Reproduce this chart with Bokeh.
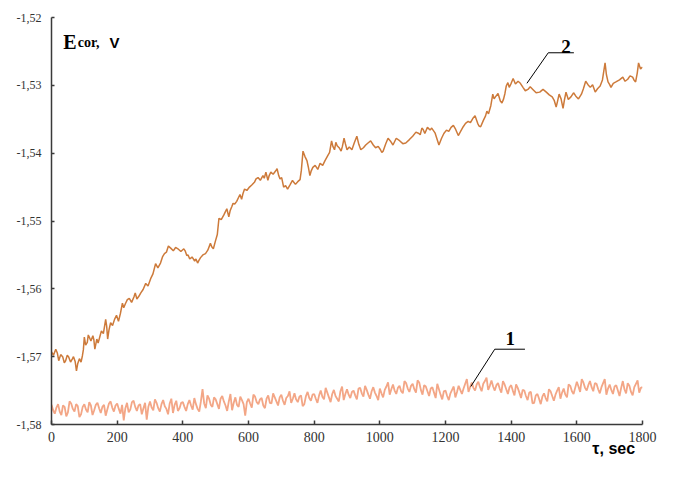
from bokeh.plotting import figure
from bokeh.models import Range1d, FixedTicker, CustomJSTickFormatter, Label
from bokeh.embed import file_html
from bokeh.resources import INLINE

# ---------------- data ----------------
x_ticks = [0, 200, 400, 600, 800, 1000, 1200, 1400, 1600, 1800]
y_ticks = [-1.58, -1.57, -1.56, -1.55, -1.54, -1.53, -1.52]

# curve 2 (time, s ; potential, V) - main readings
t2 = [0, 13, 22, 34, 43, 52, 64, 67, 76, 85, 94, 100, 109, 115, 126, 132, 138, 147,
      165, 171, 180, 192, 204, 216, 225, 237, 251, 260, 272, 287, 302, 317, 332, 344,
      356, 371, 385, 403, 412, 421, 436, 445, 454, 469, 484, 493, 505, 510, 525, 534,
      540, 549, 558, 570, 579, 588, 603, 618, 629, 644, 653, 659, 668, 683, 692, 701,
      707, 719, 734, 743, 757, 766, 778, 787, 796, 811, 826, 841, 853, 862, 870, 882,
      891, 900, 915, 930, 942, 957, 972, 987, 1002, 1010, 1025, 1040, 1061, 1079, 1100,
      1119, 1128, 1137, 1153, 1158, 1180, 1195, 1210, 1224, 1239, 1254, 1269, 1283,
      1298, 1307, 1322, 1331, 1344, 1352, 1367, 1377, 1385, 1394, 1406, 1421, 1436,
      1451, 1466, 1487, 1507, 1525, 1537, 1546, 1558, 1567, 1582, 1597, 1614, 1627,
      1641, 1656, 1671, 1686, 1695, 1704, 1719, 1740, 1755, 1770, 1779, 1788, 1800]
e2 = [-1.5693, -1.5689, -1.5706, -1.5700, -1.5706, -1.5700, -1.5703, -1.5700, -1.5721,
      -1.5703, -1.5699, -1.5671, -1.5679, -1.5671, -1.5669, -1.5689, -1.5674, -1.5671,
      -1.5645, -1.5674, -1.5650, -1.5645, -1.5648, -1.5621, -1.5622, -1.5614, -1.5612,
      -1.5615, -1.5606, -1.5592, -1.5585, -1.5563, -1.5562, -1.5548, -1.5537, -1.5544,
      -1.5541, -1.5541, -1.5551, -1.5556, -1.5559, -1.5562, -1.5554, -1.5548, -1.5533,
      -1.5541, -1.5520, -1.5496, -1.5491, -1.5482, -1.5494, -1.5479, -1.5475, -1.5465,
      -1.5468, -1.5453, -1.5450, -1.5443, -1.5436, -1.5433, -1.5428, -1.5440, -1.5428,
      -1.5426, -1.5433, -1.5436, -1.5450, -1.5453, -1.5440, -1.5446, -1.5439, -1.5397,
      -1.5411, -1.5433, -1.5421, -1.5424, -1.5418, -1.5404, -1.5382, -1.5395, -1.5389,
      -1.5397, -1.5378, -1.5395, -1.5395, -1.5375, -1.5395, -1.5388, -1.5382, -1.5392,
      -1.5395, -1.5397, -1.5378, -1.5388, -1.5382, -1.5385, -1.5375, -1.5371, -1.5363,
      -1.5371, -1.5366, -1.5363, -1.5388, -1.5371, -1.5368, -1.5359, -1.5374, -1.5361,
      -1.5353, -1.5349, -1.5356, -1.5361, -1.5345, -1.5342, -1.5313, -1.5317, -1.5323,
      -1.5320, -1.5301, -1.5303, -1.5290, -1.5294, -1.5303, -1.5306, -1.5306, -1.5310,
      -1.5310, -1.5317, -1.5332, -1.5313, -1.5334, -1.5310, -1.5317, -1.5316, -1.5313,
      -1.5294, -1.5303, -1.5310, -1.5301, -1.5267, -1.5295, -1.5303, -1.5295, -1.5288,
      -1.5291, -1.5288, -1.5295, -1.5267, -1.5273]

# curve 2 - additional in-between readings (fine jitter)
t2_extra = [6, 18, 28, 39, 48, 58, 72, 80, 90, 97, 104, 112, 120, 129, 142, 152, 158, 168,
            175, 186, 198, 210, 220, 231, 244, 255, 266, 279, 294, 309, 324, 338, 350, 363,
            378, 394, 407, 416, 428, 440, 449, 461, 476, 488, 499, 517, 529, 544, 553, 564,
            574, 583, 595, 610, 623, 636, 648, 663, 675, 687, 696, 713, 726, 738, 750, 761,
            772, 782, 791, 803, 818, 833, 847, 857, 866, 876, 886, 895, 907, 922, 936, 950,
            964, 980, 995, 1006, 1018, 1032, 1050, 1070, 1090, 1110, 1123, 1132, 1145, 1168,
            1188, 1203, 1217, 1231, 1246, 1261, 1276, 1290, 1302, 1315, 1326, 1338, 1348,
            1360, 1372, 1381, 1390, 1400, 1413, 1428, 1443, 1458, 1476, 1497, 1516, 1531,
            1541, 1552, 1562, 1574, 1590, 1605, 1620, 1634, 1648, 1663, 1678, 1690, 1700,
            1711, 1730, 1747, 1762, 1774, 1784, 1794]
e2_extra = [-1.5698, -1.5695, -1.5697, -1.5709, -1.5698, -1.5708, -1.5707, -1.5710, -1.5708,
            -1.5690, -1.5683, -1.5668, -1.5677, -1.5675, -1.5680, -1.5662, -1.5666, -1.5655,
            -1.5661, -1.5654, -1.5639, -1.5636, -1.5628, -1.5616, -1.5620, -1.5606, -1.5611,
            -1.5601, -1.5596, -1.5578, -1.5569, -1.5553, -1.5546, -1.5540, -1.5539, -1.5545,
            -1.5544, -1.5550, -1.5553, -1.5556, -1.5558, -1.5550, -1.5543, -1.5538, -1.5530,
            -1.5498, -1.5487, -1.5485, -1.5474, -1.5471, -1.5461, -1.5460, -1.5455, -1.5447,
            -1.5438, -1.5440, -1.5437, -1.5433, -1.5431, -1.5423, -1.5438, -1.5448, -1.5447,
            -1.5443, -1.5442, -1.5425, -1.5405, -1.5420, -1.5426, -1.5418, -1.5415, -1.5411,
            -1.5399, -1.5390, -1.5384, -1.5392, -1.5390, -1.5386, -1.5391, -1.5385, -1.5387,
            -1.5392, -1.5385, -1.5388, -1.5390, -1.5399, -1.5386, -1.5382, -1.5378, -1.5386,
            -1.5380, -1.5369, -1.5373, -1.5365, -1.5362, -1.5370, -1.5378, -1.5366, -1.5362,
            -1.5365, -1.5368, -1.5356, -1.5355, -1.5345, -1.5360, -1.5352, -1.5338, -1.5330,
            -1.5320, -1.5312, -1.5326, -1.5312, -1.5296, -1.5297, -1.5298, -1.5297, -1.5308,
            -1.5302, -1.5311, -1.5306, -1.5314, -1.5322, -1.5324, -1.5320, -1.5322, -1.5321,
            -1.5311, -1.5320, -1.5305, -1.5299, -1.5299, -1.5305, -1.5292, -1.5284, -1.5299,
            -1.5297, -1.5292, -1.5294, -1.5286, -1.5292, -1.5282, -1.5276]

# curve 1, sampled every 5 s from 0 to 1800 s
t1 = list(range(0, 1801, 5))
e1 = [
    -1.5771, -1.5779, -1.5784, -1.5775, -1.5770, -1.5781, -1.5786, -1.5772, -1.5774, -1.5788,
    -1.5782, -1.5766, -1.5769, -1.5777, -1.5781, -1.5770, -1.5773, -1.5789, -1.5785, -1.5774,
    -1.5770, -1.5778, -1.5782, -1.5767, -1.5772, -1.5786, -1.5779, -1.5771, -1.5768, -1.5776,
    -1.5783, -1.5774, -1.5771, -1.5787, -1.5778, -1.5769, -1.5766, -1.5775, -1.5781, -1.5772,
    -1.5769, -1.5777, -1.5784, -1.5771, -1.5794, -1.5776, -1.5768, -1.5782, -1.5778, -1.5767,
    -1.5765, -1.5774, -1.5780, -1.5772, -1.5770, -1.5785, -1.5776, -1.5768, -1.5793, -1.5774,
    -1.5766, -1.5775, -1.5779, -1.5763, -1.5768, -1.5776, -1.5781, -1.5770, -1.5764, -1.5773,
    -1.5777, -1.5785, -1.5769, -1.5762, -1.5783, -1.5771, -1.5765, -1.5780, -1.5776, -1.5768,
    -1.5767, -1.5774, -1.5780, -1.5770, -1.5764, -1.5772, -1.5778, -1.5761, -1.5770, -1.5777,
    -1.5781, -1.5766, -1.5748, -1.5769, -1.5776, -1.5757, -1.5762, -1.5771, -1.5774, -1.5760,
    -1.5763, -1.5770, -1.5777, -1.5762, -1.5758, -1.5766, -1.5772, -1.5780, -1.5766, -1.5755,
    -1.5779, -1.5768, -1.5760, -1.5771, -1.5774, -1.5759, -1.5764, -1.5770, -1.5787, -1.5767,
    -1.5762, -1.5769, -1.5775, -1.5756, -1.5759, -1.5767, -1.5770, -1.5763, -1.5761, -1.5772,
    -1.5776, -1.5762, -1.5757, -1.5768, -1.5769, -1.5754, -1.5760, -1.5766, -1.5772, -1.5760,
    -1.5756, -1.5765, -1.5771, -1.5761, -1.5758, -1.5751, -1.5768, -1.5762, -1.5754, -1.5763,
    -1.5767, -1.5759, -1.5757, -1.5773, -1.5770, -1.5758, -1.5752, -1.5761, -1.5765, -1.5756,
    -1.5755, -1.5762, -1.5768, -1.5757, -1.5750, -1.5759, -1.5763, -1.5746, -1.5753, -1.5760,
    -1.5767, -1.5755, -1.5749, -1.5758, -1.5762, -1.5766, -1.5751, -1.5744, -1.5764, -1.5755,
    -1.5748, -1.5756, -1.5761, -1.5752, -1.5750, -1.5757, -1.5763, -1.5747, -1.5746, -1.5754,
    -1.5759, -1.5743, -1.5749, -1.5756, -1.5762, -1.5751, -1.5745, -1.5753, -1.5758, -1.5764,
    -1.5747, -1.5754, -1.5760, -1.5749, -1.5744, -1.5738, -1.5756, -1.5748, -1.5741, -1.5750,
    -1.5755, -1.5746, -1.5743, -1.5751, -1.5754, -1.5736, -1.5739, -1.5747, -1.5752, -1.5743,
    -1.5740, -1.5748, -1.5753, -1.5735, -1.5738, -1.5749, -1.5756, -1.5742, -1.5744, -1.5751,
    -1.5758, -1.5747, -1.5745, -1.5753, -1.5761, -1.5740, -1.5748, -1.5756, -1.5763, -1.5751,
    -1.5750, -1.5758, -1.5764, -1.5754, -1.5749, -1.5744, -1.5760, -1.5752, -1.5743, -1.5749,
    -1.5755, -1.5747, -1.5740, -1.5733, -1.5752, -1.5745, -1.5738, -1.5746, -1.5750, -1.5741,
    -1.5737, -1.5745, -1.5751, -1.5740, -1.5736, -1.5731, -1.5749, -1.5743, -1.5735, -1.5744,
    -1.5750, -1.5742, -1.5739, -1.5747, -1.5753, -1.5736, -1.5741, -1.5748, -1.5755, -1.5745,
    -1.5742, -1.5750, -1.5757, -1.5741, -1.5746, -1.5753, -1.5761, -1.5749, -1.5750, -1.5758,
    -1.5764, -1.5753, -1.5752, -1.5769, -1.5768, -1.5757, -1.5755, -1.5762, -1.5770, -1.5759,
    -1.5754, -1.5761, -1.5766, -1.5748, -1.5751, -1.5758, -1.5765, -1.5756, -1.5750, -1.5745,
    -1.5762, -1.5753, -1.5747, -1.5756, -1.5760, -1.5741, -1.5743, -1.5751, -1.5755, -1.5746,
    -1.5737, -1.5744, -1.5752, -1.5733, -1.5738, -1.5746, -1.5750, -1.5742, -1.5736, -1.5745,
    -1.5751, -1.5739, -1.5740, -1.5748, -1.5754, -1.5745, -1.5739, -1.5733, -1.5756, -1.5747,
    -1.5741, -1.5749, -1.5755, -1.5744, -1.5742, -1.5750, -1.5758, -1.5746, -1.5736, -1.5748,
    -1.5754, -1.5739, -1.5743, -1.5752, -1.5757, -1.5745, -1.5740, -1.5735, -1.5753, -1.5746,
    -1.5745]

# annotation (leader lines and curve numbers)
lead2_t = [1448, 1513, 1591]
lead2_e = [-1.5297, -1.5252, -1.5252]
lead1_t = [1277, 1350, 1442]
lead1_e = [-1.5744, -1.5689, -1.5689]

assert len(t2) == len(e2) and len(t2_extra) == len(e2_extra) and len(t1) == len(e1)
curve2 = sorted(zip(t2 + t2_extra, e2 + e2_extra))
c2_t = [a for a, b in curve2]
c2_e = [b for a, b in curve2]

# ---------------- figure ----------------
p = figure(width=657, height=461, output_backend="svg", toolbar_location=None,
           x_range=Range1d(0, 1800), y_range=Range1d(-1.58, -1.52),
           min_border_left=51, min_border_right=15, min_border_top=17, min_border_bottom=37)
p.outline_line_color = None
p.xgrid.visible = False
p.ygrid.visible = False
p.background_fill_color = "white"
p.border_fill_color = "white"

for ax in (p.xaxis[0], p.yaxis[0]):
    ax.axis_line_color = "#3a3a3a"
    ax.axis_line_width = 1.5
    ax.major_tick_line_color = "#3a3a3a"
    ax.major_tick_line_width = 1.5
    ax.minor_tick_line_color = None
    ax.major_tick_out = 0
    ax.major_label_text_font = "Liberation Serif"
    ax.major_label_text_color = "#333333"

p.xaxis.ticker = FixedTicker(ticks=x_ticks)
p.xaxis.major_tick_in = 4
p.xaxis.major_label_text_font_size = "14px"
p.xaxis.major_label_standoff = 7
# x-axis title, pushed to the right end with non-breaking spaces
p.xaxis.axis_label = "\u00a0" * 120 + "τ, sec"
p.xaxis.axis_label_text_font = "Liberation Sans"
p.xaxis.axis_label_text_font_style = "bold"
p.xaxis.axis_label_text_font_size = "16px"
p.xaxis.axis_label_text_color = "black"
p.xaxis.axis_label_standoff = -5

p.yaxis.ticker = FixedTicker(ticks=y_ticks)
p.yaxis.major_tick_in = 3
p.yaxis.major_label_text_font_size = "12px"
p.yaxis.major_label_standoff = 10
p.yaxis.formatter = CustomJSTickFormatter(code="return tick.toFixed(2).replace('.', ',');")

p.line(t1, e1, line_color="#F3A686", line_width=1.8)
p.line(c2_t, c2_e, line_color="#CD7A3A", line_width=1.5)

p.line(lead2_t, lead2_e, line_color="black", line_width=1)
p.line(lead1_t, lead1_e, line_color="black", line_width=1)

p.add_layout(Label(x=1567, y=-1.5243, text="2", text_font="Liberation Serif",
                   text_font_style="bold", text_font_size="19px", text_align="center",
                   text_baseline="alphabetic", text_color="black"))
p.add_layout(Label(x=1397, y=-1.5673, text="1", text_font="Liberation Serif",
                   text_font_style="bold", text_font_size="19px", text_align="center",
                   text_baseline="alphabetic", text_color="black"))

# y-axis title pieces
p.add_layout(Label(x=36, y=-1.52362, text="E", text_font="Liberation Serif",
                   text_font_style="bold", text_font_size="20px",
                   text_baseline="alphabetic", text_color="black"))
p.add_layout(Label(x=80, y=-1.52362, text="cor,", text_font="Liberation Serif",
                   text_font_style="bold", text_font_size="14px",
                   text_baseline="alphabetic", text_color="black"))
p.add_layout(Label(x=177, y=-1.52362, text="V", text_font="Liberation Sans",
                   text_font_style="bold", text_font_size="15px",
                   text_baseline="alphabetic", text_color="black"))

open("out.html", "w").write(file_html(p, INLINE))
